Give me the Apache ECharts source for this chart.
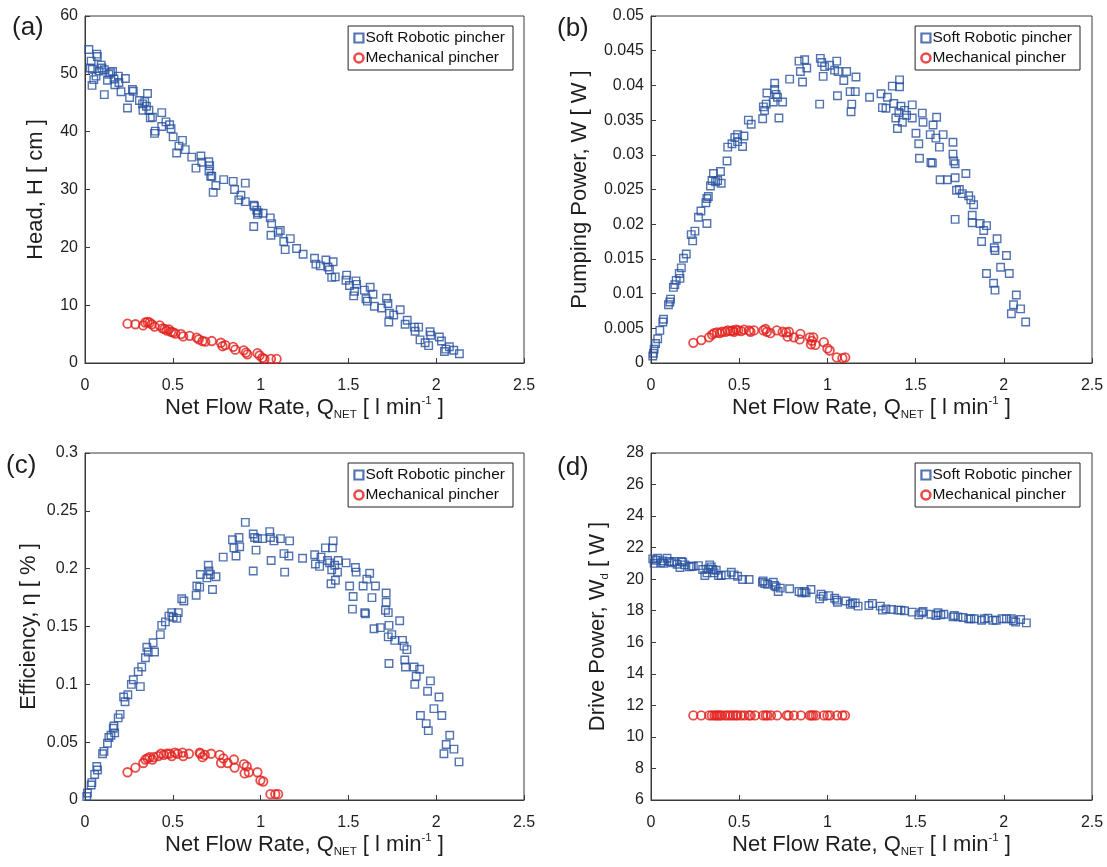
<!DOCTYPE html>
<html><head><meta charset="utf-8">
<script src="https://cdn.jsdelivr.net/npm/echarts@6/dist/echarts.min.js"></script>
<style>html,body{margin:0;padding:0;background:#fff}#c{width:1107px;height:867px}</style>
</head><body><div id="c"></div>
<script>
// ---------- DATA ----------
const headSoft = [[0.022,54.2],[0.035,52.2],[0.03,51],[0.042,50.8],[0.04,48],[0.067,53.4],[0.07,53],[0.05,49],[0.063,49.6],[0.08,50.5],[0.092,51.5],[0.096,51.0],[0.11,50.7],[0.11,46.4],[0.128,48.9],[0.136,49.9],[0.145,50.2],[0.157,50.4],[0.165,49.1],[0.17,48.1],[0.19,49.6],[0.193,48.5],[0.205,46.9],[0.23,49.2],[0.242,44.1],[0.254,45.9],[0.27,47.3],[0.275,47],[0.31,45.4],[0.328,44.8],[0.33,43.7],[0.34,45.2],[0.35,44.4],[0.356,46.6],[0.364,43.7],[0.372,42.4],[0.384,42.5],[0.396,39.7],[0.4,40.1],[0.437,43.3],[0.437,40.9],[0.461,41.7],[0.482,41.2],[0.49,40.5],[0.502,39.1],[0.522,36.3],[0.535,37.5],[0.555,38.5],[0.571,36.9],[0.608,35.6],[0.632,33.7],[0.66,35.8],[0.665,34.7],[0.705,34.8],[0.71,34.1],[0.706,33.2],[0.716,32.3],[0.722,32.3],[0.73,29.5],[0.745,30.7],[0.79,31.7],[0.844,31.4],[0.852,30],[0.876,28.2],[0.888,29],[0.913,31.1],[0.913,27.9],[0.961,27.3],[0.965,27.1],[0.978,26.4],[0.982,25.7],[0.986,26],[0.961,23.6],[1.014,25.9],[1.055,25.1],[1.063,24.1],[1.059,22.1],[1.1,22.6],[1.112,22.9],[1.132,21],[1.14,19.6],[1.169,21.5],[1.205,19.8],[1.242,18.8],[1.307,18.1],[1.315,17.1],[1.34,16.8],[1.372,17.8],[1.384,16.6],[1.392,16.1],[1.413,17.5],[1.405,14.8],[1.425,14.9],[1.49,15.2],[1.486,14.3],[1.506,13.4],[1.543,14.2],[1.547,13.6],[1.535,12.4],[1.53,11.6],[1.591,12.6],[1.6,11.1],[1.608,10.7],[1.624,13.1],[1.64,11.9],[1.648,9.8],[1.689,9.5],[1.717,11.2],[1.725,10.3],[1.734,8.6],[1.73,7.1],[1.758,8.3],[1.795,9.2],[1.823,6.7],[1.835,7.4],[1.876,6.2],[1.88,5.5],[1.9,6.2],[1.908,4],[1.937,3.5],[1.957,3],[1.965,5.4],[1.969,4.8],[2.018,4.5],[2.03,3.8],[2.047,2],[2.055,2.4],[2.075,2.8],[2.1,2.2],[2.132,1.6]];
const headMech = [[0.242,6.8],[0.287,6.7],[0.331,6.5],[0.343,7],[0.356,7.1],[0.368,7],[0.38,6.7],[0.396,6.3],[0.425,6.5],[0.441,6],[0.453,5.9],[0.466,5.6],[0.478,5.8],[0.49,5.4],[0.502,5.3],[0.514,5.1],[0.547,5],[0.559,4.6],[0.596,4.7],[0.636,4.4],[0.648,4.1],[0.669,3.8],[0.685,3.7],[0.722,3.8],[0.774,3.5],[0.783,2.9],[0.799,3.1],[0.844,2.8],[0.856,2.3],[0.904,2.2],[0.917,1.8],[0.925,1.5],[0.982,1.7],[0.994,1.3],[1.01,0.9],[1.022,0.7],[1.059,0.7],[1.091,0.7]];
const pumpSoft = [[0.01,0.001],[0.014,0.0014],[0.018,0.002],[0.026,0.0028],[0.038,0.0035],[0.05,0.0047],[0.067,0.0059],[0.071,0.0063],[0.099,0.0084],[0.107,0.0088],[0.111,0.0092],[0.127,0.0109],[0.135,0.0113],[0.143,0.0119],[0.16,0.0129],[0.164,0.0122],[0.172,0.0137],[0.184,0.0151],[0.2,0.0157],[0.228,0.0185],[0.236,0.0176],[0.249,0.019],[0.269,0.021],[0.283,0.0219],[0.311,0.0231],[0.317,0.0237],[0.325,0.024],[0.317,0.0201],[0.337,0.0255],[0.346,0.0263],[0.354,0.0273],[0.366,0.0261],[0.378,0.0263],[0.394,0.0276],[0.398,0.0259],[0.431,0.0291],[0.435,0.0311],[0.459,0.0316],[0.475,0.0325],[0.491,0.0329],[0.491,0.0319],[0.519,0.0312],[0.527,0.0327],[0.552,0.035],[0.568,0.0344],[0.633,0.0352],[0.637,0.0369],[0.644,0.0364],[0.653,0.0373],[0.657,0.0389],[0.693,0.0376],[0.701,0.0394],[0.701,0.0403],[0.709,0.0387],[0.717,0.0383],[0.725,0.0353],[0.746,0.0376],[0.786,0.0409],[0.839,0.0435],[0.847,0.042],[0.859,0.0405],[0.871,0.0437],[0.883,0.0425],[0.956,0.0373],[0.96,0.0439],[0.968,0.0433],[0.976,0.0413],[0.984,0.0427],[1.013,0.0429],[1.041,0.0422],[1.053,0.0435],[1.061,0.042],[1.057,0.0385],[1.093,0.0407],[1.109,0.042],[1.129,0.0391],[1.138,0.0373],[1.134,0.0362],[1.158,0.0391],[1.162,0.0412],[1.239,0.0383],[1.304,0.0388],[1.312,0.0368],[1.332,0.0367],[1.34,0.0383],[1.368,0.0399],[1.376,0.0374],[1.388,0.0353],[1.397,0.0338],[1.405,0.0361],[1.409,0.0408],[1.409,0.0398],[1.417,0.037],[1.425,0.0347],[1.437,0.0364],[1.449,0.0357],[1.481,0.0372],[1.481,0.0353],[1.502,0.0331],[1.518,0.0316],[1.522,0.0295],[1.538,0.036],[1.542,0.0347],[1.583,0.0329],[1.587,0.0289],[1.595,0.0288],[1.599,0.0343],[1.615,0.0324],[1.619,0.0354],[1.635,0.0311],[1.639,0.0264],[1.656,0.0329],[1.68,0.0264],[1.712,0.0318],[1.712,0.0301],[1.716,0.0291],[1.724,0.0287],[1.724,0.0267],[1.724,0.0207],[1.732,0.0249],[1.748,0.025],[1.765,0.0244],[1.785,0.0273],[1.801,0.0241],[1.813,0.0235],[1.821,0.0213],[1.821,0.0202],[1.829,0.0228],[1.866,0.0201],[1.874,0.0175],[1.886,0.0191],[1.902,0.0198],[1.902,0.0129],[1.942,0.0115],[1.95,0.0105],[1.946,0.0166],[1.95,0.0162],[1.962,0.0179],[1.982,0.0138],[2.015,0.0155],[2.031,0.0129],[2.043,0.0071],[2.055,0.0084],[2.071,0.0098],[2.095,0.0078],[2.124,0.0059]];
const pumpMech = [[0.24,0.0029],[0.285,0.0033],[0.329,0.0037],[0.346,0.0041],[0.358,0.0043],[0.374,0.0044],[0.39,0.0043],[0.402,0.0045],[0.422,0.0045],[0.435,0.0047],[0.451,0.0046],[0.463,0.0047],[0.471,0.0045],[0.483,0.0048],[0.495,0.0047],[0.511,0.0046],[0.527,0.0048],[0.556,0.0047],[0.564,0.0045],[0.584,0.0047],[0.637,0.0047],[0.649,0.0049],[0.657,0.0045],[0.677,0.0043],[0.713,0.0047],[0.746,0.0045],[0.766,0.0044],[0.782,0.0045],[0.774,0.0038],[0.81,0.0037],[0.847,0.0042],[0.843,0.0034],[0.9,0.0037],[0.912,0.0032],[0.92,0.0037],[0.907,0.0027],[0.932,0.0026],[0.98,0.003],[1.0,0.0021],[1.013,0.0018],[1.053,0.0008],[1.085,0.0007],[1.101,0.0008]];
const effSoft = [[0.01,0.003],[0.014,0.006],[0.035,0.013],[0.039,0.015],[0.055,0.022],[0.067,0.029],[0.071,0.026],[0.1,0.04],[0.108,0.042],[0.128,0.049],[0.136,0.054],[0.148,0.056],[0.161,0.062],[0.165,0.064],[0.169,0.058],[0.189,0.071],[0.2,0.074],[0.22,0.089],[0.228,0.085],[0.244,0.091],[0.264,0.1],[0.275,0.104],[0.303,0.111],[0.315,0.098],[0.323,0.115],[0.344,0.123],[0.352,0.132],[0.36,0.128],[0.388,0.136],[0.396,0.128],[0.429,0.143],[0.437,0.151],[0.458,0.154],[0.478,0.159],[0.494,0.162],[0.502,0.158],[0.523,0.157],[0.531,0.162],[0.551,0.174],[0.563,0.172],[0.633,0.177],[0.637,0.185],[0.653,0.184],[0.657,0.195],[0.694,0.192],[0.702,0.203],[0.706,0.198],[0.714,0.195],[0.726,0.182],[0.746,0.193],[0.787,0.21],[0.84,0.225],[0.848,0.218],[0.86,0.211],[0.877,0.227],[0.881,0.219],[0.913,0.24],[0.958,0.198],[0.958,0.23],[0.966,0.227],[0.974,0.216],[0.982,0.226],[1.011,0.226],[1.052,0.232],[1.056,0.227],[1.06,0.207],[1.076,0.224],[1.113,0.226],[1.133,0.213],[1.137,0.197],[1.161,0.211],[1.165,0.224],[1.239,0.209],[1.308,0.212],[1.312,0.204],[1.336,0.202],[1.344,0.21],[1.369,0.218],[1.381,0.207],[1.393,0.205],[1.401,0.187],[1.405,0.199],[1.409,0.218],[1.413,0.224],[1.422,0.203],[1.426,0.19],[1.438,0.197],[1.442,0.207],[1.487,0.205],[1.507,0.185],[1.523,0.165],[1.527,0.176],[1.54,0.201],[1.544,0.197],[1.584,0.185],[1.593,0.162],[1.597,0.161],[1.605,0.191],[1.621,0.196],[1.634,0.175],[1.646,0.148],[1.654,0.185],[1.682,0.149],[1.715,0.179],[1.715,0.171],[1.711,0.164],[1.727,0.162],[1.731,0.151],[1.727,0.141],[1.731,0.118],[1.747,0.143],[1.764,0.138],[1.792,0.155],[1.808,0.138],[1.817,0.133],[1.821,0.121],[1.825,0.115],[1.833,0.13],[1.874,0.115],[1.878,0.1],[1.886,0.107],[1.906,0.113],[1.91,0.073],[1.943,0.066],[1.951,0.094],[1.955,0.06],[1.967,0.103],[1.987,0.079],[2.016,0.089],[2.032,0.073],[2.044,0.04],[2.057,0.048],[2.077,0.056],[2.101,0.044],[2.13,0.033]];
const effMech = [[0.242,0.024],[0.287,0.028],[0.332,0.032],[0.344,0.035],[0.356,0.036],[0.368,0.037],[0.384,0.035],[0.392,0.037],[0.417,0.038],[0.433,0.04],[0.449,0.039],[0.466,0.04],[0.482,0.04],[0.494,0.038],[0.511,0.041],[0.527,0.04],[0.555,0.041],[0.559,0.038],[0.592,0.04],[0.653,0.041],[0.657,0.04],[0.669,0.037],[0.682,0.039],[0.718,0.04],[0.767,0.039],[0.775,0.032],[0.788,0.036],[0.812,0.032],[0.848,0.035],[0.852,0.028],[0.905,0.031],[0.909,0.023],[0.921,0.029],[0.933,0.024],[0.982,0.024],[0.999,0.017],[1.015,0.016],[1.056,0.005],[1.084,0.005],[1.1,0.005]];
const driveSoft = [[0.01,21.29],[0.018,21.0],[0.03,21.2],[0.038,21.33],[0.055,21.04],[0.067,21.16],[0.071,21.0],[0.091,21.33],[0.103,21.12],[0.119,21.04],[0.131,21.12],[0.148,20.95],[0.164,20.74],[0.172,21.12],[0.18,21.08],[0.192,20.91],[0.216,20.78],[0.228,20.82],[0.24,20.82],[0.269,20.86],[0.293,20.61],[0.305,20.23],[0.317,20.4],[0.325,20.65],[0.333,20.91],[0.342,20.78],[0.35,20.61],[0.358,20.4],[0.37,20.57],[0.382,20.23],[0.398,20.23],[0.422,20.27],[0.455,20.44],[0.471,20.27],[0.491,20.19],[0.519,19.98],[0.556,19.98],[0.632,19.81],[0.636,19.89],[0.645,19.72],[0.661,19.68],[0.693,19.81],[0.701,19.6],[0.709,19.51],[0.721,19.22],[0.733,19.43],[0.786,19.39],[0.839,19.22],[0.855,19.13],[0.871,19.22],[0.879,19.13],[0.907,19.35],[0.956,18.75],[0.964,19.05],[0.976,18.92],[1.008,18.96],[1.041,18.79],[1.053,18.67],[1.057,18.54],[1.105,18.62],[1.13,18.41],[1.142,18.5],[1.158,18.5],[1.174,18.29],[1.235,18.33],[1.255,18.46],[1.3,18.29],[1.312,18.04],[1.332,18.12],[1.364,18.08],[1.4,18.04],[1.417,18.04],[1.437,18.0],[1.481,17.91],[1.518,17.74],[1.534,17.87],[1.542,17.95],[1.587,17.78],[1.615,17.7],[1.627,17.87],[1.643,17.74],[1.66,17.78],[1.712,17.61],[1.72,17.7],[1.74,17.61],[1.769,17.57],[1.801,17.49],[1.813,17.49],[1.833,17.49],[1.874,17.4],[1.89,17.49],[1.91,17.53],[1.938,17.4],[1.958,17.4],[1.99,17.49],[2.015,17.49],[2.043,17.49],[2.055,17.36],[2.067,17.28],[2.095,17.44],[2.128,17.23]];
const driveMech = [[0.24,11.36],[0.285,11.36],[0.33,11.36],[0.345,11.36],[0.36,11.36],[0.37,11.36],[0.38,11.36],[0.39,11.36],[0.4,11.36],[0.42,11.36],[0.435,11.36],[0.45,11.36],[0.465,11.36],[0.48,11.36],[0.49,11.36],[0.51,11.36],[0.53,11.36],[0.555,11.36],[0.565,11.36],[0.59,11.36],[0.635,11.36],[0.65,11.36],[0.66,11.36],[0.68,11.36],[0.715,11.36],[0.77,11.36],[0.78,11.36],[0.81,11.36],[0.85,11.36],[0.9,11.36],[0.91,11.36],[0.92,11.36],[0.935,11.36],[0.98,11.36],[1.0,11.36],[1.015,11.36],[1.055,11.36],[1.085,11.36],[1.1,11.36]];

const panelLabels = ['(a)','(b)','(c)','(d)'];
const seriesNames = ['Soft Robotic pincher','Mechanical pincher'];
const yRanges = [[0,60,10],[0,0.05,0.005],[0,0.3,0.05],[6,28,2]];
const xRange = [0,2.5,0.5];

// ---------- LAYOUT / STYLE ----------
const FONT = 'Liberation Sans, Arial, sans-serif';
const BLUE = '#27509f', RED = '#e2201d', AX = '#3a3a3a', TXT = '#1e1e1e';
const grids = [
  {left:85, top:16, width:439, height:347},
  {left:651, top:16, width:441, height:347},
  {left:85, top:453, width:439, height:347},
  {left:651, top:453, width:441, height:347}
];
const labelPos = [[12,15],[557,16],[6,453],[557,455]];
const legendPos = [[594,26],[27,26],[594,463],[27,463]];
const yNameGap = [36,58,43,40];
const baseRich = {
  m:{fontSize:22, fontFamily:FONT, color:TXT, lineHeight:26},
  sub:{fontSize:11.5, fontFamily:FONT, color:TXT, lineHeight:10, verticalAlign:'bottom'},
  sup:{fontSize:11.5, fontFamily:FONT, color:TXT, lineHeight:12, verticalAlign:'top'}
};
const xName = '{m|Net Flow Rate, Q}{sub|NET}{m| [ l min}{sup|-1}{m| ]}';
const yNames = ['{m|Head, H [ cm ]}','{m|Pumping Power, W [ W ]}','{m|Efficiency, η [ % ]}','{m|Drive Power, W}{sub|d}{m| [ W ]}'];
const dataSets = [[headSoft,headMech],[pumpSoft,pumpMech],[effSoft,effMech],[driveSoft,driveMech]];

const option = {
  animation:false,
  backgroundColor:'#fff',
  textStyle:{fontFamily:FONT},
  title: panelLabels.map((t,i)=>({text:t, left:labelPos[i][0], top:labelPos[i][1], padding:0,
    textStyle:{fontSize:26, fontWeight:'normal', color:TXT, fontFamily:FONT}})),
  grid: grids.map(g=>Object.assign({show:true, borderColor:AX, borderWidth:1, backgroundColor:'transparent'}, g)),
  legend: legendPos.map(p=>({
    data:[{name:seriesNames[0], itemStyle:{borderWidth:2.2}}, {name:seriesNames[1], itemStyle:{borderWidth:2.6}}],
    orient:'vertical', right:p[0], top:p[1],
    backgroundColor:'#fff', borderColor:'#222', borderWidth:1, borderRadius:0,
    padding:[3,8,3,5], itemGap:2, itemWidth:9, itemHeight:9,
    textStyle:{fontSize:15.5, color:'#111', fontFamily:FONT, padding:[0,0,0,-3], lineHeight:18},
    selectedMode:false
  })),
  xAxis: grids.map((g,i)=>({type:'value', gridIndex:i, min:xRange[0], max:xRange[1], interval:xRange[2],
    splitLine:{show:false}, axisLine:{show:true, lineStyle:{color:AX}},
    axisTick:{show:true, inside:true, length:5, lineStyle:{color:AX}},
    axisLabel:{fontSize:16, color:TXT, margin:15, fontFamily:FONT},
    name:xName, nameLocation:'middle', nameGap:32, nameTextStyle:{rich:baseRich}})),
  yAxis: grids.map((g,i)=>({type:'value', gridIndex:i, min:yRanges[i][0], max:yRanges[i][1], interval:yRanges[i][2],
    splitLine:{show:false}, axisLine:{show:true, lineStyle:{color:AX}},
    axisTick:{show:true, inside:true, length:5, lineStyle:{color:AX}},
    axisLabel:{fontSize:16, color:TXT, margin:7, fontFamily:FONT},
    name:yNames[i], nameLocation:'middle', nameRotate:90, nameGap:yNameGap[i], nameTextStyle:{rich:baseRich}})),
  series: []
};
dataSets.forEach((ds,i)=>{
  option.series.push({name:seriesNames[0], type:'scatter', xAxisIndex:i, yAxisIndex:i, data:ds[0],
    symbol:'rect', symbolSize:7.5, itemStyle:{color:'rgba(255,255,255,0)', borderColor:BLUE, borderWidth:1.4},
    emphasis:{disabled:true}, z:3});
  option.series.push({name:seriesNames[1], type:'scatter', xAxisIndex:i, yAxisIndex:i, data:ds[1],
    symbol:'circle', symbolSize:8.5, itemStyle:{color:'rgba(255,255,255,0)', borderColor:RED, borderWidth:1.8},
    emphasis:{disabled:true}, z:4});
});
const chart = echarts.init(document.getElementById('c'), null, {renderer:'canvas'});
chart.setOption(option);
</script></body></html>
